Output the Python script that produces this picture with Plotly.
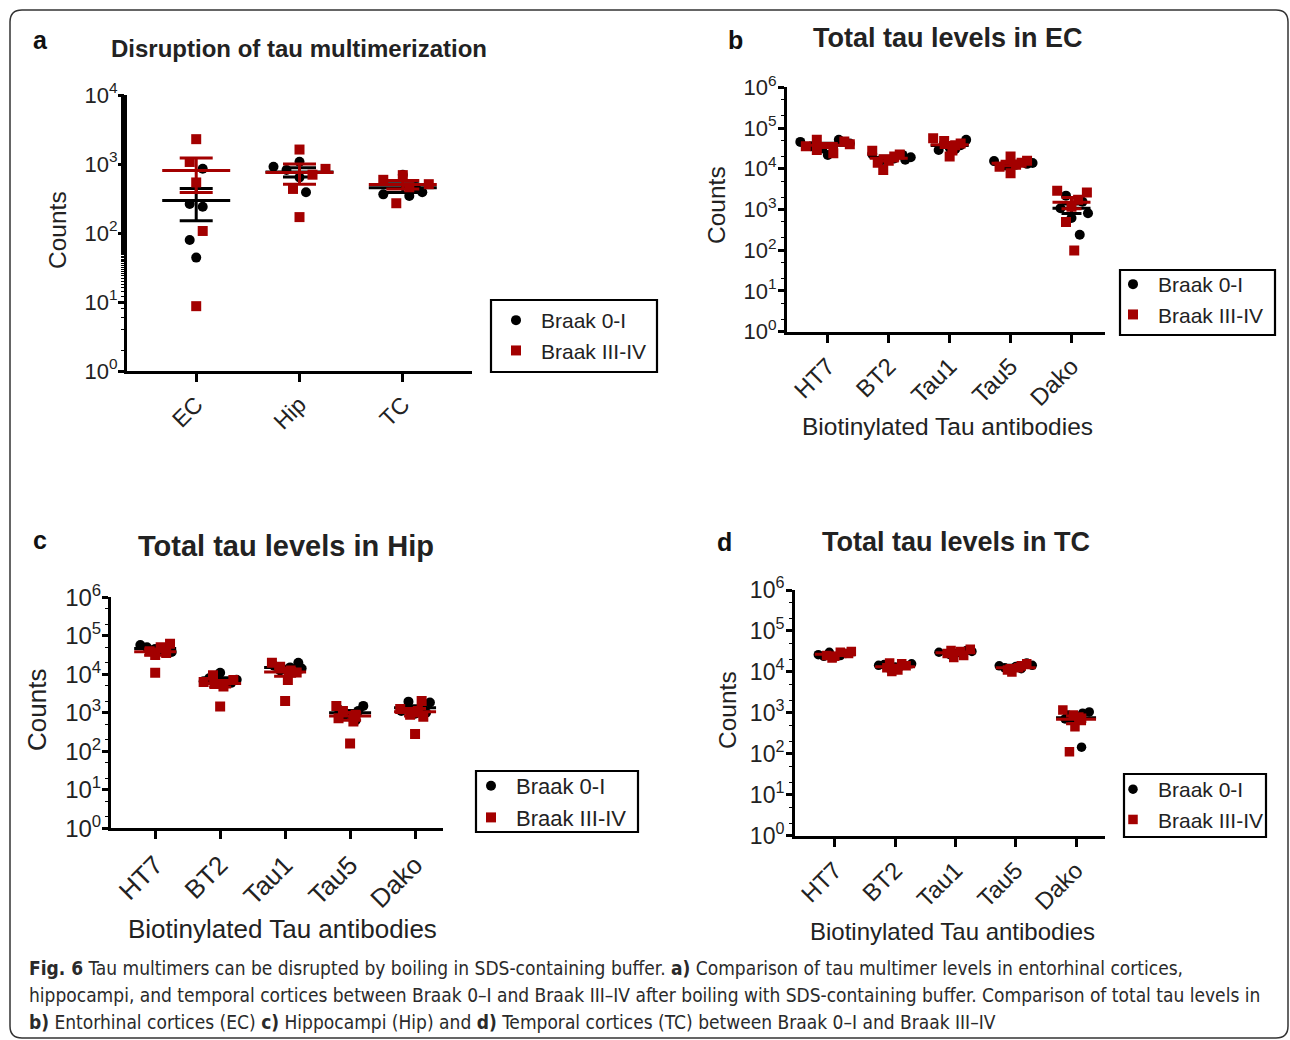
import numpy as np
import plotly.graph_objects as go

W, H = 1290, 1040
BLACK = "#000000"
RED = "#a30000"
TEXT = "#222222"
FONT = "Liberation Sans, Arial, sans-serif"
CAPTION_FONT = "Liberation Sans Narrow, DejaVu Sans Condensed, Roboto Condensed, Liberation Sans, sans-serif"

# ---------------- data ----------------
# panel a: tau multimer counts after boiling in SDS buffer
a_cats = ["EC", "Hip", "TC"]
a_black = [[851, 263, 240, 79, 44], [910, 820, 1075, 640, 390], [363, 345, 390, 700, 460]]
a_red = [[2290, 1070, 540, 107, 8.7], [1620, 850, 700, 435, 170], [590, 690, 510, 270, 460]]
a_black_dx = [[1, -1, 1, -1, 0], [-4, -2, 0, 0, 1], [-3, 1, 3, 0, 2]]
a_red_dx = [[0, -1, 0, 1, 0], [0, 4, 2, -1, 0], [-3, 0, 4, -1, 1]]

# panels b-d: total tau levels by antibody
ab_cats = ["HT7", "BT2", "Tau1", "Tau5", "Dako"]

b_black = [[21900, 51300, 35500, 41700, 31600, 45700],
           [15800, 21900, 19100, 17800, 22900, 16600],
           [51300, 38000, 28800, 33100, 41700, 30200],
           [15500, 13200, 12000, 13800, 12600, 11200],
           [2190, 1070, 810, 620, 240, 1550]]
b_red = [[51300, 24000, 46800, 28800, 39800, 35500],
         [27500, 9300, 20000, 15800, 22400, 14100],
         [56200, 47900, 20000, 38000, 28200, 41700],
         [20000, 7800, 14100, 11200, 15800, 12600],
         [2880, 2630, 1740, 490, 98, 1170]]
b_black_dx = [[0, 2, -3, 4, -1, -5], [-1.5, 2.5, 4, 1, -3, 3], [3, 2, -2, 0, -1, 1],
              [-3, 3, -1, 4, 1, 0], [-1, -2, 3, 0, 1.5, 2]]
b_red_dx = [[-2, 1, 3, -2, 4, -4], [-3, -1, 1, 0, 2, -2], [-3, -1, 0, 1, 0.5, 2],
            [0, 0, 2, -2, 3, 1], [-2.6, 2.8, 1.2, -1, 0.5, 0]]

c_black = [[57500, 50100, 41700, 38000, 45700, 47900],
           [11000, 6600, 6000, 7200, 7900, 5600],
           [20000, 15100, 12600, 11200, 16600, 14100],
           [1510, 1120, 890, 710, 630, 1200],
           [1950, 1860, 1120, 1260, 950, 1000]]
c_red = [[61700, 50100, 31600, 11000, 39800, 35500],
         [9500, 4800, 7100, 1450, 6300, 5600],
         [20000, 15800, 7100, 11200, 2040, 12600],
         [1510, 1120, 720, 590, 160, 890],
         [2040, 1260, 890, 280, 1120, 790]]
c_black_dx = [[-2.7, -1.5, 1, 3, 0, 2], [0, -3, 2, 3, -2, 1], [2.4, 0.9, -0.9, 1, -2, 3],
              [2.4, 1.5, -1, 0.5, 1, -2], [-1.2, 2.7, -2.5, 1.5, 0, 2]]
c_red_dx = [[2.7, 1, 0, 0, -1, 2], [-1.3, 0.6, 2.4, 0, -3, -1], [-2.4, -0.9, 0.5, 2.1, 0, 1],
            [-2.5, -1.3, -2.1, 0.6, 0, 1], [1.2, -2.7, -0.9, 0, 0.5, 1.5]]

d_black = [[30200, 26300, 25100, 24000, 28200, 22900],
           [14500, 13200, 15800, 12000, 13800, 15100],
           [30200, 28200, 31600, 26300, 28800, 33100],
           [16600, 13500, 12600, 14100, 12000, 14500],
           [1050, 980, 790, 710, 145, 890]]
d_red = [[30200, 21900, 28200, 25100, 24000, 31600],
         [10200, 15800, 12600, 14100, 16600, 11200],
         [22400, 35500, 31600, 28200, 33100, 25100],
         [10000, 15800, 12600, 11200, 14100, 12000],
         [1170, 890, 740, 460, 112, 790]]
d_black_dx = [[-1, -3, 1, -2, 2, 0], [-3, 0, 3, -1, 1, -2], [-3, 0, 3, -1, 1, 2],
              [2, 0, -2, -3, 1, 3], [2.4, 1.2, -0.5, -2, 1, -1.5]]
d_red_dx = [[1, -0.5, 2.5, -1.5, 0, 3], [-0.6, 1.2, -1.5, 2, -1, 0.5], [-0.3, 2.7, 0.9, -1.5, -0.8, 1.5],
            [-0.7, 2, 0.5, -1.5, 1, -1], [-2.4, -0.5, 1, -0.2, -1.2, 0.5]]

series_names = ["Braak 0-I", "Braak III-IV"]


def px(x):
    return x / W


def py(y):
    return 1 - y / H


# plot-area geometry (pixels) and styling per panel
panels = [
    dict(ax="", cats=a_cats, black=a_black, red=a_red, bdx=a_black_dx, rdx=a_red_dx,
         x0=127, x1=472, ytop=95, ybot=371, xr=[-0.67, 2.67], ndec=4, slot=6.5,
         mean_hw=34, cap_hw=16.5, ms=10, xfont=23, yfont=22, standoff=-4,
         legend="legend", box=(491, 300, 657, 372), item=(541, 322), legfont=21),
    dict(ax="2", cats=ab_cats, black=b_black, red=b_red, bdx=b_black_dx, rdx=b_red_dx,
         x0=787, x1=1105, ytop=87.3, ybot=331.7, xr=[-0.67, 4.55], ndec=6, slot=5.5,
         mean_hw=19, cap_hw=10, ms=10, xfont=24, yfont=22, standoff=-3,
         legend="legend2", box=(1120, 270, 1275, 335), item=(1158, 286), legfont=21),
    dict(ax="3", cats=ab_cats, black=c_black, red=c_red, bdx=c_black_dx, rdx=c_red_dx,
         x0=111, x1=443, ytop=597.3, ybot=828.3, xr=[-0.68, 4.43], ndec=6, slot=5.5,
         mean_hw=21, cap_hw=11, ms=10, xfont=26, yfont=24, standoff=-4,
         legend="legend3", box=(476, 771, 638, 832), item=(516, 787), legfont=22),
    dict(ax="4", cats=ab_cats, black=d_black, red=d_red, bdx=d_black_dx, rdx=d_red_dx,
         x0=795, x1=1105, ytop=590, ybot=835.7, xr=[-0.66, 4.48], ndec=6, slot=5.5,
         mean_hw=20, cap_hw=10, ms=9.5, xfont=24, yfont=23, standoff=-3,
         legend="legend4", box=(1124, 774, 1266, 837), item=(1158, 791), legfont=21),
]

fig = go.Figure()
layout_axes = {}
legends = {}
shapes = []

for p in panels:
    xa = "x" + p["ax"]
    ya = "y" + p["ax"]
    spacing = (p["x1"] - p["x0"]) / (p["xr"][1] - p["xr"][0])
    mhw = p["mean_hw"] / spacing
    chw = p["cap_hw"] / spacing

    groups = [("black", "bdx", BLACK, "circle", series_names[0]),
              ("red", "rdx", RED, "square", series_names[1])]
    for key, dxkey, color, symbol, name in groups:
        xs, ys = [], []
        for i, (vals, dxs) in enumerate(zip(p[key], p[dxkey])):
            for v, d in zip(vals, dxs):
                xs.append(i + d * p["slot"] / spacing)
                ys.append(v)
        fig.add_trace(go.Scatter(
            x=xs, y=ys, mode="markers", name=name, xaxis=xa, yaxis=ya,
            legend=p["legend"], showlegend=True,
            marker=dict(color=color, symbol=symbol, size=p["ms"], line=dict(width=0)),
            hoverinfo="skip"))

        # mean with SEM error bars
        lx, ly = [], []
        for i, vals in enumerate(p[key]):
            arr = np.asarray(vals, dtype=float)
            m = arr.mean()
            s = arr.std(ddof=1) / np.sqrt(len(arr))
            lo, hi = m - s, m + s
            lx += [i - mhw, i + mhw, None, i, i, None, i - chw, i + chw, None, i - chw, i + chw, None]
            ly += [m, m, None, lo, hi, None, hi, hi, None, lo, lo, None]
        fig.add_trace(go.Scatter(
            x=lx, y=ly, mode="lines", xaxis=xa, yaxis=ya, showlegend=False,
            line=dict(color=color, width=3), connectgaps=False, hoverinfo="skip"))

    xname = "xaxis" + p["ax"]
    yname = "yaxis" + p["ax"]
    layout_axes[xname] = dict(
        domain=[px(p["x0"]), px(p["x1"])], anchor=ya, range=p["xr"],
        tickmode="array", tickvals=list(range(len(p["cats"]))), ticktext=p["cats"],
        tickangle=-45, ticks="outside", ticklen=8, tickwidth=2.5, tickcolor=BLACK,
        showline=True, linewidth=3, linecolor=BLACK, showgrid=False, zeroline=False,
        tickfont=dict(family=FONT, size=p["xfont"], color=TEXT), fixedrange=True, automargin=False)
    layout_axes[yname] = dict(
        domain=[py(p["ybot"]), py(p["ytop"])], anchor=xa, type="log",
        range=[0, p["ndec"]], tickmode="array",
        tickvals=[10 ** k for k in range(p["ndec"] + 1)],
        ticktext=["10<sup>%d</sup>" % k for k in range(p["ndec"] + 1)],
        ticks="outside", ticklen=6, tickwidth=2.5, tickcolor=BLACK, ticklabelstandoff=p["standoff"],
        minor=dict(ticks="outside", ticklen=3.5, tickwidth=1.2, tickcolor=BLACK, showgrid=False),
        showline=True, linewidth=3, linecolor=BLACK, showgrid=False, zeroline=False,
        tickfont=dict(family=FONT, size=p["yfont"], color=TEXT), fixedrange=True, automargin=False)

    # legend entries without their own frame; the frame is drawn as a shape
    legends[p["legend"]] = dict(
        x=px(p["item"][0] - 50), y=py(p["item"][1] - 22), xanchor="left", yanchor="top",
        bgcolor="rgba(0,0,0,0)", borderwidth=0,
        font=dict(family=FONT, size=p["legfont"], color=TEXT),
        itemsizing="trace", itemwidth=40, tracegroupgap=0)
    bx0, by0, bx1, by1 = p["box"]
    shapes.append(dict(type="rect", xref="paper", yref="paper",
                       x0=px(bx0), x1=px(bx1), y0=py(by1), y1=py(by0),
                       line=dict(color=BLACK, width=2.2), fillcolor="white", layer="below"))

annotations = []


def text(x, y, s, size, bold=False, angle=0, anchor="center", family=FONT, color=TEXT):
    annotations.append(dict(
        x=px(x), y=py(y), xref="paper", yref="paper", text=("<b>%s</b>" % s) if bold else s,
        showarrow=False, xanchor=anchor, yanchor="middle", textangle=angle,
        font=dict(family=family, size=size, color=color)))


# panel letters and titles
text(40, 40, "a", 25, bold=True, color="#111")
text(735, 40, "b", 25, bold=True, color="#111")
text(40, 540, "c", 25, bold=True, color="#111")
text(724, 542, "d", 25, bold=True, color="#111")
text(299, 48, "Disruption of tau multimerization", 24, bold=True)
text(948, 38, "Total tau levels in EC", 27, bold=True)
text(286, 546, "Total tau levels in Hip", 29, bold=True)
text(956, 542, "Total tau levels in TC", 27, bold=True)

# axis titles
for (x, y, s) in [(57, 230, 24.5), (717, 205, 24.5), (37, 710, 26), (727, 710, 24.5)]:
    text(x, y, "Counts", s, angle=-90)
for (x, y, s) in [(947, 426, 24.5), (282, 929, 26), (952, 931, 24)]:
    text(x, y, "Biotinylated Tau antibodies", s)

# caption
cap_lines = [
    "<b>Fig. 6</b> Tau multimers can be disrupted by boiling in SDS-containing buffer. <b>a)</b> "
    "Comparison of tau multimer levels in entorhinal cortices,",
    "hippocampi, and temporal cortices between Braak 0\u2013I and Braak III\u2013IV after boiling with "
    "SDS-containing buffer. Comparison of total tau levels in",
    "<b>b)</b> Entorhinal cortices (EC) <b>c)</b> Hippocampi (Hip) and <b>d)</b> Temporal cortices (TC) "
    "between Braak 0\u2013I and Braak III\u2013IV",
]
for s, y in zip(cap_lines, [968, 995, 1022]):
    text(27, y, s, 19, anchor="left", family=CAPTION_FONT, color="#2a2a2a")

# rounded frame around the figure
r = 12
x0, y0, x1, y1 = 10, 10, 1288, 1038
frame = ("M {a},{b} L {a},{c} Q {a},{d} {e},{d} L {f},{d} Q {g},{d} {g},{c} "
         "L {g},{h} Q {g},{i} {f},{i} L {e},{i} Q {a},{i} {a},{h} Z").format(
    a=px(x0), b=py(y1 - r), c=py(y0 + r), d=py(y0), e=px(x0 + r), f=px(x1 - r),
    g=px(x1), h=py(y1 - r), i=py(y1))
shapes.insert(0, dict(type="path", path=frame, xref="paper", yref="paper",
                      line=dict(color="#333333", width=1.5), fillcolor="rgba(0,0,0,0)", layer="below"))

fig.update_layout(
    width=W, height=H, margin=dict(l=0, r=0, t=0, b=0, pad=0, autoexpand=False),
    paper_bgcolor="white", plot_bgcolor="white",
    font=dict(family=FONT, color=TEXT),
    annotations=annotations,
    shapes=shapes,
    **layout_axes, **legends)

fig.write_html("out.html")
